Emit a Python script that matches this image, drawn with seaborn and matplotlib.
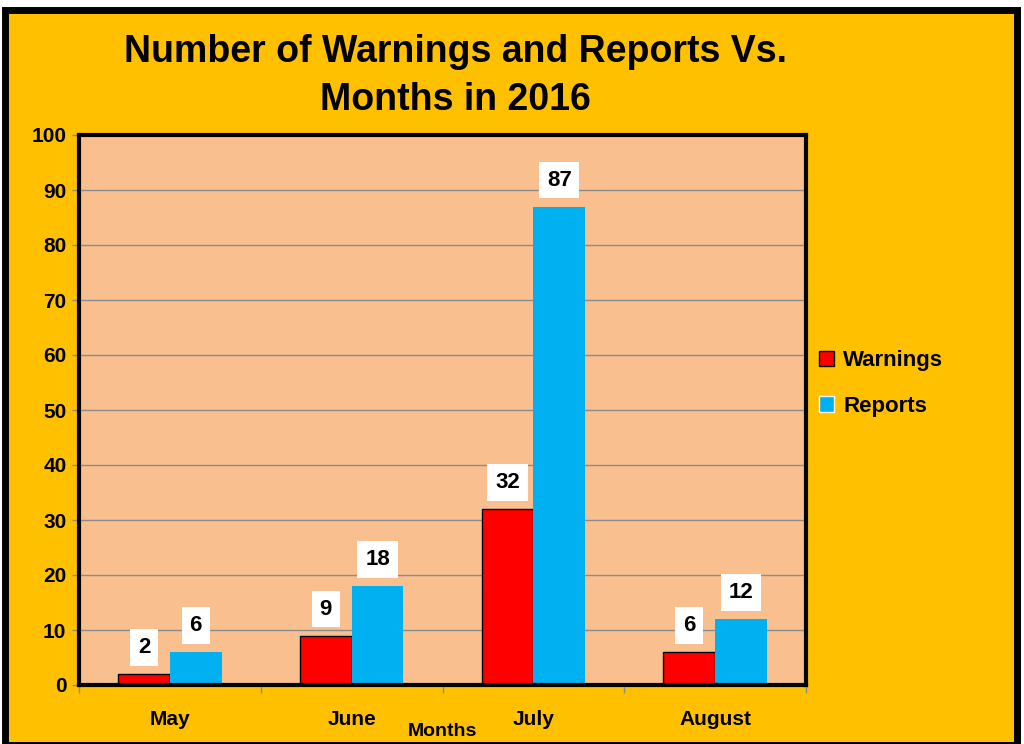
import numpy as np
import pandas as pd
import matplotlib
matplotlib.use('Agg')
import matplotlib.pyplot as plt
from matplotlib.patches import Rectangle
import seaborn as sns

months   = ['May', 'June', 'July', 'August']
warnings = [2, 9, 32, 6]
reports  = [6, 18, 87, 12]
series   = ['Warnings', 'Reports']
colors   = ['#FF0000', '#00B0F0']

df = pd.DataFrame({
    'Month': months * 2,
    'Count': warnings + reports,
    'Series': [series[0]] * len(months) + [series[1]] * len(months),
})

sns.set_theme(style='white')
FONT = ['Liberation Sans Narrow', 'Liberation Sans', 'DejaVu Sans']
plt.rcParams['font.family'] = FONT
plt.rcParams['font.weight'] = 'bold'
plt.rcParams['text.color'] = 'black'
plt.rcParams['axes.labelcolor'] = 'black'
plt.rcParams['xtick.color'] = 'black'
plt.rcParams['ytick.color'] = 'black'

fig = plt.figure(figsize=(10.24, 7.44), dpi=100)
fig.patch.set_facecolor('white')
# orange chart area with thick black frame
frame = Rectangle((5 / 1024, -1 / 744), 1012 / 1024, 735 / 744,
                  transform=fig.transFigure, facecolor='#FFC000',
                  edgecolor='black', linewidth=5, zorder=-5)
fig.patches.append(frame)

ax = fig.add_axes([79 / 1024, 59 / 744, 727 / 1024, 550 / 744])
ax.set_zorder(1)
ax.set_facecolor('#F9BF8F')

sns.barplot(data=df, x='Month', y='Count', hue='Series', order=months,
            hue_order=series, palette=colors, width=0.57, gap=0,
            saturation=1, ax=ax, legend=True)

for cont, ser in zip(ax.containers, series):
    for bar in cont:
        if ser == 'Warnings':
            bar.set_edgecolor('black')
            bar.set_linewidth(1.0)
        else:
            bar.set_edgecolor('none')
        h = bar.get_height()
        ax.annotate('{:.0f}'.format(h),
                    (bar.get_x() + bar.get_width() / 2, h),
                    textcoords='offset points', xytext=(0, 19),
                    ha='center', va='center', fontsize=16, fontweight='bold',
                    color='black',
                    bbox=dict(boxstyle='square,pad=0.35', facecolor='white',
                              edgecolor='none'))

ax.set_ylim(0, 100)
ax.set_xlim(-0.5, 3.5)
ax.set_yticks(np.arange(0, 101, 10))
ax.yaxis.grid(True, color='#8C8C8C', linewidth=1.0)
ax.set_axisbelow(True)

for s in ax.spines.values():
    s.set_visible(True)
    s.set_color('black')
    s.set_linewidth(3)

ax.tick_params(axis='y', which='major', length=5, width=1, color='#8C8C8C',
               labelcolor='black', labelsize=15, pad=4, left=True)
ax.tick_params(axis='x', which='major', length=0, labelsize=15, pad=18,
               labelcolor='black')
ax.set_xticks(np.arange(-0.5, 4.0, 1.0), minor=True)
ax.tick_params(axis='x', which='minor', length=6, width=1, color='#8C8C8C',
               bottom=True)
for lbl in ax.get_xticklabels() + ax.get_yticklabels():
    lbl.set_fontweight('bold')

ax.set_ylabel('')
ax.set_xlabel('Months', fontsize=14, fontweight='bold', color='black')
ax.xaxis.set_label_coords(0.5, -0.07)

leg = ax.legend(loc='center left', bbox_to_anchor=(0.99, 0.548), frameon=False,
                fontsize=16, handlelength=0.7, handleheight=0.7,
                handletextpad=0.4, labelspacing=1.1)
for t in leg.get_texts():
    t.set_fontweight('bold')
    t.set_color('black')
leg.get_patches()[0].set_edgecolor('black')

fig.text(455 / 1024, 1 - 76 / 744,
         'Number of Warnings and Reports Vs.\nMonths in 2016',
         ha='center', va='center', fontsize=27, fontweight='bold',
         color='black', linespacing=1.45)

fig.savefig('out.png', dpi=100, facecolor=fig.get_facecolor())
